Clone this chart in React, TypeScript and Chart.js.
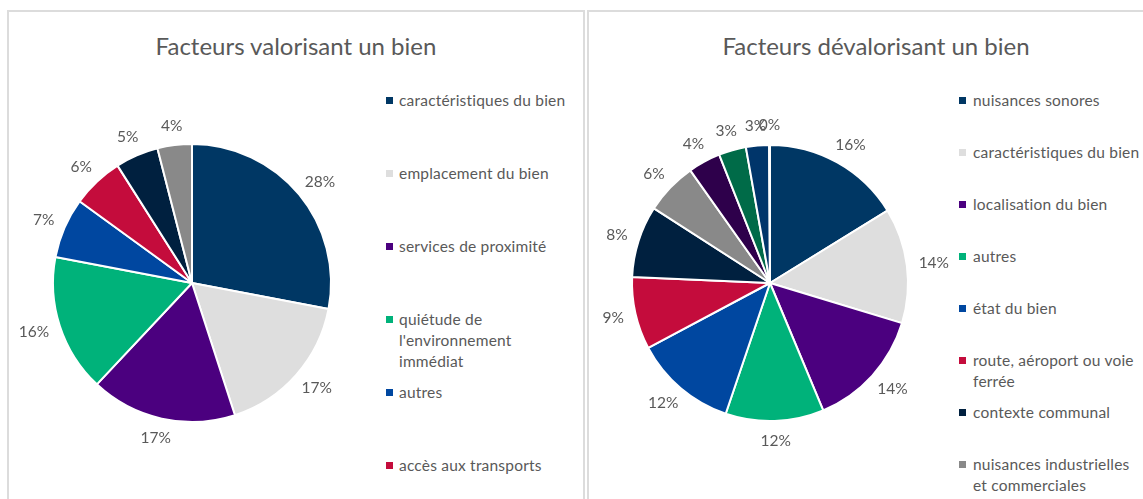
import React, { useEffect, useRef } from 'react';
import { Chart, registerables } from 'chart.js';

Chart.register(...registerables);

// ---------- data ----------
const leftTitle = 'Facteurs valorisant un bien';
const leftCategories = [
  'caractéristiques du bien',
  'emplacement du bien',
  'services de proximité',
  "quiétude de l'environnement immédiat",
  'autres',
  'accès aux transports',
  '',
  '',
];
const leftValues = [28, 17, 17, 16, 7, 6, 5, 4];
const leftColors = ['#003764', '#DEDEDE', '#4B007F', '#00B27A', '#0047A0', '#C40C3C', '#00203F', '#898989'];

const rightTitle = 'Facteurs dévalorisant un bien';
const rightCategories = [
  'nuisances sonores',
  'caractéristiques du bien',
  'localisation du bien',
  'autres',
  'état du bien',
  'route, aéroport ou voie ferrée',
  'contexte communal',
  'nuisances industrielles et commerciales',
  '',
  '',
  '',
  '',
];
// shares (%); labels show them rounded
const rightValues = [16.2, 13.5, 14.0, 11.5, 12.0, 8.5, 8.4, 6.1, 3.8, 3.2, 2.7, 0.1];
const rightColors = [
  '#003764', '#DEDEDE', '#4B007F', '#00B27A', '#0047A0', '#C40C3C',
  '#00203F', '#898989', '#2E004B', '#006B48', '#00356A', '#7A7A7A',
];

// ---------- styling ----------
const FONT = 'Lato, "Open Sans", sans-serif';
const TEXT = '#595959';
const LABEL_SIZE = 15.5;
const LEGEND_SIZE = 15.5;

const outsideLabels = {
  id: 'outsideLabels',
  afterDatasetsDraw(chart: any) {
    const ctx = chart.ctx;
    const meta = chart.getDatasetMeta(0);
    const data = chart.data.datasets[0].data as number[];
    ctx.save();
    ctx.font = `${LABEL_SIZE}px ${FONT}`;
    ctx.fillStyle = TEXT;
    ctx.textAlign = 'center';
    ctx.textBaseline = 'middle';
    const gap = 12;
    meta.data.forEach((arc: any, i: number) => {
      const p = arc.getProps(['x', 'y', 'startAngle', 'endAngle', 'outerRadius'], true);
      const mid = (p.startAngle + p.endAngle) / 2;
      const txt = `${Math.round(data[i])}%`;
      const w = ctx.measureText(txt).width;
      const h = LABEL_SIZE;
      const c = Math.cos(mid);
      const s = Math.sin(mid);
      const cx = p.x + c * (p.outerRadius + gap) + (c * w) / 2;
      const cy = p.y + s * (p.outerRadius + gap) + (s * h) / 2;
      ctx.fillText(txt, cx, cy);
    });
    ctx.restore();
  },
};

type PanelProps = {
  panelLeft: number;
  title: string;
  categories: string[];
  values: number[];
  colors: string[];
  radius: number;
  canvasLeft: number;
  canvasTop: number;
  canvasW: number;
  canvasH: number;
  markerX: number;
  textX: number;
  legendY0: number;
  legendStep: number;
  legendWidth: number;
};

function PiePanel(props: PanelProps) {
  const ref = useRef<HTMLCanvasElement | null>(null);
  useEffect(() => {
    if (!ref.current) return;
    const chart = new Chart(ref.current, {
      type: 'pie',
      data: {
        labels: props.categories,
        datasets: [
          {
            data: props.values,
            backgroundColor: props.colors,
            borderColor: '#ffffff',
            borderWidth: 2,
            radius: props.radius,
          } as any,
        ],
      },
      options: {
        animation: false,
        responsive: false,
        maintainAspectRatio: false,
        layout: { padding: 0 },
        plugins: {
          legend: { display: false },
          tooltip: { enabled: false },
          title: { display: false },
        },
      },
      plugins: [outsideLabels],
    });
    return () => chart.destroy();
  }, []);

  const panelW = 578;
  const lineH = 21;
  return (
    <>
      <div
        style={{
          position: 'absolute',
          left: props.panelLeft,
          top: 10,
          width: panelW,
          height: 600,
          boxSizing: 'border-box',
          borderTop: '2px solid #DCDCDC',
          borderLeft: '2px solid #DCDCDC',
          borderRight: '2px solid #DCDCDC',
        }}
      />
      <div
        style={{
          position: 'absolute',
          left: props.panelLeft,
          width: panelW,
          top: 29,
          height: 34,
          lineHeight: '34px',
          textAlign: 'center',
          fontSize: 24,
          color: TEXT,
          whiteSpace: 'nowrap',
        }}
      >
        {props.title}
      </div>
      <canvas
        ref={ref}
        width={props.canvasW}
        height={props.canvasH}
        style={{
          position: 'absolute',
          left: props.canvasLeft,
          top: props.canvasTop,
          width: props.canvasW,
          height: props.canvasH,
        }}
      />
      {props.categories.map((name, i) =>
        name === '' ? null : (
          <div key={i}>
            <div
              style={{
                position: 'absolute',
                left: props.markerX,
                top: props.legendY0 + i * props.legendStep - 3.5,
                width: 7,
                height: 7,
                background: props.colors[i],
              }}
            />
            <div
              style={{
                position: 'absolute',
                left: props.textX,
                top: props.legendY0 + i * props.legendStep - lineH / 2,
                width: props.legendWidth,
                fontSize: LEGEND_SIZE,
                letterSpacing: '0.2px',
                lineHeight: `${lineH}px`,
                color: TEXT,
              }}
            >
              {name}
            </div>
          </div>
        )
      )}
    </>
  );
}

export default function App() {
  return (
    <div
      style={{
        position: 'relative',
        width: 1143,
        height: 499,
        overflow: 'hidden',
        background: '#ffffff',
        fontFamily: FONT,
      }}
    >
      <style>{'html,body{margin:0;padding:0;overflow:hidden;background:#fff}'}</style>
      <PiePanel
        panelLeft={7}
        title={leftTitle}
        categories={leftCategories}
        values={leftValues}
        colors={leftColors}
        radius={139}
        canvasLeft={8}
        canvasTop={100}
        canvasW={368}
        canvasH={366}
        markerX={386}
        textX={399}
        legendY0={100}
        legendStep={73}
        legendWidth={172}
      />
      <PiePanel
        panelLeft={587}
        title={rightTitle}
        categories={rightCategories}
        values={rightValues}
        colors={rightColors}
        radius={138}
        canvasLeft={588}
        canvasTop={100}
        canvasW={364}
        canvasH={366}
        markerX={959}
        textX={973}
        legendY0={100}
        legendStep={52}
        legendWidth={170}
      />
    </div>
  );
}
